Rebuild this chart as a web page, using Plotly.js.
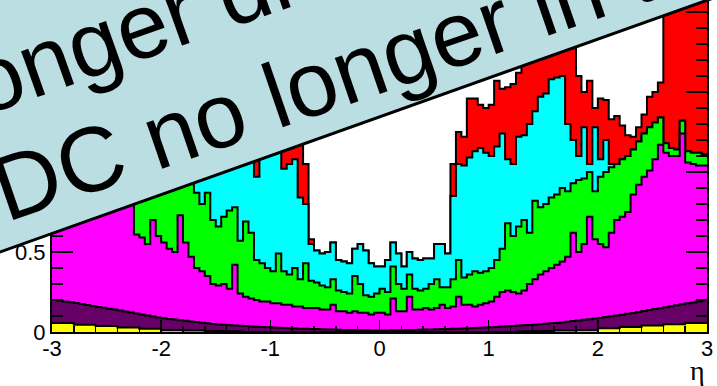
<!DOCTYPE html>
<html><head><meta charset="utf-8">
<script src="https://cdn.plot.ly/plotly-3.0.1.min.js"></script>
<style>html,body{margin:0;padding:0;background:#fff}#chart{width:717px;height:386px}</style>
</head><body><div id="chart"></div>
<script>
// Histogram binning in eta
const binLow = -3, binWidth = 0.05;

// Cumulative stack heights (top of each coloured layer) read bin by bin, 120 bins of 0.05
const stackTopYellow = [
0.056,0.056,0.056,0.056,0.045,0.045,0.045,0.045,0.037,0.037,
0.037,0.037,0.028,0.028,0.028,0.028,0.021,0.021,0.021,0.021,
0.011,0.011,0.011,0.011,0.009,0.009,0.009,0.009,0.007,0.007,
0.007,0.007,0.005,0.005,0.005,0,0,0,0,0,
0,0,0,0,0,0,0,0,0,0,
0,0,0,0,0,0,0,0,0,0,
0,0,0,0,0,0,0,0,0,0,
0,0,0,0,0,0,0,0,0,0,
0,0,0,0,0,0.005,0.005,0.005,0.007,0.007,
0.007,0.007,0.009,0.009,0.009,0.009,0.011,0.011,0.011,0.011,
0.024,0.024,0.024,0.024,0.031,0.031,0.031,0.031,0.040,0.040,
0.040,0.040,0.048,0.048,0.048,0.048,0.056,0.056,0.056,0.056];

const stackTopPurple = [
0.200,0.196,0.191,0.186,0.181,0.175,0.169,0.163,0.157,0.152,
0.146,0.140,0.134,0.128,0.122,0.116,0.110,0.103,0.097,0.091,
0.086,0.082,0.078,0.074,0.070,0.066,0.062,0.058,0.054,0.050,
0.047,0.045,0.043,0.041,0.039,0.037,0.035,0.033,0.031,0.030,
0.028,0.026,0.025,0.023,0.022,0.021,0.020,0.019,0.018,0.017,
0.016,0.015,0.014,0.013,0.012,0.012,0.011,0.011,0.010,0.010,
0.010,0.010,0.011,0.011,0.012,0.012,0.013,0.014,0.015,0.016,
0.017,0.018,0.019,0.020,0.021,0.022,0.024,0.025,0.027,0.028,
0.030,0.032,0.034,0.036,0.038,0.040,0.042,0.044,0.046,0.048,
0.051,0.054,0.057,0.060,0.064,0.068,0.072,0.076,0.080,0.084,
0.088,0.093,0.098,0.103,0.108,0.114,0.119,0.125,0.131,0.137,
0.143,0.149,0.155,0.161,0.167,0.173,0.179,0.185,0.191,0.197];

const stackTopMagenta = [
1.00,1.00,1.00,1.00,1.00,1.00,1.00,1.00,1.00,1.00,
1.00,1.00,1.00,1.00,1.00,0.61,0.59,0.55,0.70,0.60,
0.56,0.52,0.50,0.73,0.56,0.47,0.40,0.38,0.35,0.30,
0.29,0.30,0.27,0.42,0.24,0.22,0.21,0.20,0.19,0.19,
0.18,0.18,0.17,0.17,0.16,0.16,0.15,0.15,0.15,0.14,
0.14,0.17,0.13,0.13,0.12,0.13,0.12,0.12,0.11,0.12,
0.12,0.11,0.21,0.13,0.13,0.22,0.14,0.14,0.15,0.14,
0.15,0.17,0.15,0.16,0.22,0.17,0.17,0.16,0.17,0.18,
0.19,0.22,0.25,0.26,0.25,0.24,0.26,0.30,0.33,0.36,
0.38,0.40,0.42,0.44,0.47,0.62,0.50,0.55,0.72,0.58,
0.55,0.53,0.62,0.70,0.72,0.75,0.86,0.92,0.97,1.01,
1.08,1.17,1.12,1.10,1.10,1.24,1.06,1.05,1.04,1.04];

const stackTopGreen = [
1.10,1.10,1.10,1.10,1.10,1.10,1.10,1.10,1.10,1.10,
1.10,1.10,1.10,1.10,1.10,1.05,1.05,1.05,1.05,1.05,
1.05,1.05,1.05,1.05,1.05,1.05,0.87,0.80,0.87,0.70,
0.66,0.72,0.76,0.78,0.57,0.69,0.62,0.45,0.43,0.40,
0.38,0.49,0.38,0.36,0.40,0.33,0.43,0.32,0.31,0.29,
0.28,0.33,0.26,0.25,0.24,0.35,0.30,0.23,0.22,0.24,
0.27,0.25,0.41,0.30,0.27,0.36,0.27,0.26,0.27,0.30,
0.33,0.28,0.28,0.33,0.45,0.34,0.36,0.38,0.37,0.38,
0.40,0.45,0.52,0.68,0.60,0.66,0.70,0.62,0.82,0.78,
0.80,0.84,0.86,0.90,0.88,0.93,0.95,0.96,1.00,0.88,
0.97,1.00,1.03,1.05,1.08,1.10,1.14,1.19,1.24,1.28,
1.31,1.34,1.18,1.15,1.14,1.32,1.13,1.12,1.12,1.11];

const stackTopCyan = [
1.20,1.20,1.20,1.20,1.20,1.20,1.20,1.20,1.20,1.20,
1.20,1.20,1.20,1.20,1.20,1.20,1.20,1.20,1.20,1.20,
1.20,1.20,1.20,1.20,1.20,1.20,1.25,1.25,1.25,1.25,
1.25,1.25,1.25,1.25,1.25,1.25,1.25,0.97,1.25,1.25,
1.25,1.25,1.02,1.05,1.08,0.84,0.80,0.55,0.51,0.49,
0.50,0.56,0.45,0.44,0.43,0.52,0.55,0.51,0.43,0.41,
0.41,0.45,0.56,0.49,0.41,0.50,0.46,0.45,0.46,0.46,
0.55,0.55,0.49,0.85,1.05,1.04,1.09,1.13,1.15,1.12,
1.10,1.16,1.24,1.08,1.05,1.22,1.23,1.30,1.38,1.47,
1.49,1.58,1.59,1.60,1.30,1.20,1.10,1.28,1.05,1.28,
1.08,1.20,1.05,1.05,1.08,1.10,1.14,1.19,1.24,1.28,
1.31,1.34,1.18,1.15,1.14,1.32,1.13,1.12,1.12,1.11];

const stackTopRed = [
1.40,1.40,1.40,1.40,1.40,1.40,1.40,1.40,1.40,1.40,
1.40,1.40,1.40,1.40,1.40,1.40,1.40,1.40,1.40,1.40,
1.40,1.40,1.40,1.40,1.40,1.40,1.40,1.40,1.40,1.40,
1.40,1.40,1.40,1.40,1.40,1.40,1.40,1.40,1.40,1.40,
1.40,1.40,1.40,1.40,1.40,1.20,1.05,0.58,0.51,0.49,
0.50,0.56,0.45,0.44,0.43,0.52,0.55,0.51,0.43,0.41,
0.41,0.45,0.56,0.49,0.41,0.50,0.46,0.45,0.46,0.46,
0.55,0.55,0.49,1.05,1.25,1.22,1.46,1.46,1.42,1.40,
1.42,1.57,1.52,1.53,1.55,1.62,1.90,1.90,1.90,1.90,
1.90,1.90,1.90,1.90,1.90,1.90,1.60,1.50,1.57,1.40,
1.46,1.45,1.33,1.35,1.29,1.23,1.22,1.28,1.36,1.47,
1.50,1.56,2.30,2.30,2.30,2.30,2.30,2.30,2.30,2.30];

const xTickVals = [-3,-2,-1,0,1,2,3];
const xTickText = ['-3','-2','-1','0','1','2','3'];
const yTickVals = [0,0.5,1,1.5,2];
const yTickText = ['0','0.5','1','1.5','2'];

const bannerLine1 = 'longer di';
const bannerLine2 = 'DC no longer in t';
const xTitle = '\u03b7';

// ---- drawing ----
const nBins = stackTopRed.length;
const edges = [];
for (let i = 0; i <= nBins; i++) edges.push(+(binLow + i * binWidth).toFixed(4));

function stepTrace(vals, fill) {
  return {
    type: 'scatter', mode: 'lines', x: edges,
    y: vals.concat([vals[vals.length - 1]]),
    line: {shape: 'hv', color: '#000', width: 2},
    fill: 'tozeroy', fillcolor: fill,
    hoverinfo: 'skip', showlegend: false
  };
}

const traces = [
  stepTrace(stackTopRed, '#ff0000'),
  stepTrace(stackTopCyan, '#00ffff'),
  stepTrace(stackTopGreen, '#00ff00'),
  stepTrace(stackTopMagenta, '#ff00ff'),
  stepTrace(stackTopPurple, '#660066'),
  stepTrace(stackTopYellow, '#ffff00')
];

// pixel -> paper helpers (plot area: x 52..707, y 0..332)
const L = 52, R = 10, T = 0, B = 54, W = 717, H = 386;
const pw = W - L - R, ph = H - T - B;
const px = v => (v - L) / pw;
const py = v => (H - B - v) / ph;

// rotated banner
const ang = 19.6 * Math.PI / 180;
const sA = Math.sin(ang), cA = Math.cos(ang);
const edgeY0 = 252; // bottom edge of banner at pixel x = 0
const ptA = [-60, edgeY0 + Math.tan(ang) * 60];
const ptB = [780, edgeY0 - Math.tan(ang) * 780];
const nrm = [-sA * 420, -cA * 420];
const ptC = [ptB[0] + nrm[0], ptB[1] + nrm[1]];
const ptD = [ptA[0] + nrm[0], ptA[1] + nrm[1]];
const bannerPath = 'M' + [ptA, ptB, ptC, ptD].map(p => px(p[0]).toFixed(4) + ',' + py(p[1]).toFixed(4)).join('L') + 'Z';

const textFont = {family: 'Liberation Sans, Arial, sans-serif', size: 92, color: '#000'};
const tickFont = {family: 'Liberation Sans, Arial, sans-serif', size: 22, color: '#000'};

const layout = {
  width: W, height: H,
  margin: {l: L, r: R, t: T, b: B, pad: 0},
  paper_bgcolor: '#ffffff', plot_bgcolor: '#ffffff',
  showlegend: false,
  xaxis: {
    range: [-3, 3], tickmode: 'array', tickvals: xTickVals, ticktext: xTickText,
    ticks: 'inside', ticklen: 12, tickwidth: 1.5, tickcolor: '#000',
    showline: true, linecolor: '#000', linewidth: 2, mirror: false,
    showgrid: false, zeroline: false, ticklabelstandoff: -4,
    tickfont: tickFont,
    minor: {tickmode: 'linear', tick0: -3, dtick: 0.2, ticks: 'inside', ticklen: 6, tickwidth: 1.5, tickcolor: '#000', showgrid: false}
  },
  yaxis: {
    range: [0, 2.075], tickmode: 'array', tickvals: yTickVals, ticktext: yTickText,
    ticks: 'inside', ticklen: 21, tickwidth: 1.5, tickcolor: '#000',
    showline: true, linecolor: '#000', linewidth: 2, mirror: 'ticks',
    showgrid: false, zeroline: false, ticklabelstandoff: 0,
    tickfont: tickFont,
    minor: {tickmode: 'linear', tick0: 0, dtick: 0.1, ticks: 'inside', ticklen: 11, tickwidth: 1.5, tickcolor: '#000', showgrid: false}
  },
  shapes: [{
    type: 'path', xref: 'paper', yref: 'paper', path: bannerPath,
    fillcolor: '#bbdee3', line: {color: '#000', width: 3}, layer: 'above'
  }],
  annotations: [
    {xref: 'paper', yref: 'paper', x: px(119.0), y: py(33.8), xanchor: 'center', yanchor: 'middle',
     text: bannerLine1, showarrow: false, textangle: -19.6, font: textFont},
    {xref: 'paper', yref: 'paper', x: px(321.6), y: py(79.5), xanchor: 'center', yanchor: 'middle',
     text: bannerLine2, showarrow: false, textangle: -19.0, font: textFont},
    {xref: 'paper', yref: 'paper', x: 1, y: py(370), xanchor: 'right', yanchor: 'middle',
     text: xTitle, showarrow: false, font: {family: 'Liberation Serif, Times New Roman, serif', size: 28, color: '#000'}}
  ]
};

Plotly.newPlot('chart', traces, layout, {staticPlot: true, displayModeBar: false});
</script>
</body></html>
